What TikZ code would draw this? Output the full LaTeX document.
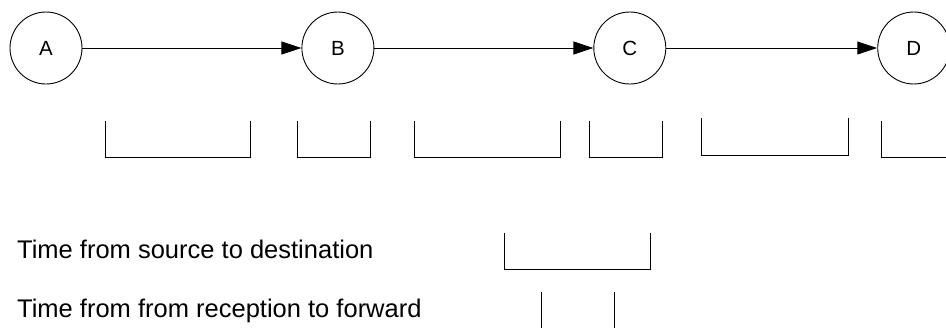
\documentclass[tikz,border=0pt]{standalone}
\usepackage{fontspec}
\setmainfont{Liberation Sans}
\usetikzlibrary{arrows.meta, positioning}

\tikzset{
  station/.style={circle, draw, line width=0.9pt, minimum size=72pt, inner sep=0pt,
    font=\fontsize{20.5}{24}\selectfont},
  hop/.style={-{Triangle[length=20pt, width=13pt]}, line width=1pt},
  span/.style={line width=1pt},
  legendtext/.style={anchor=base west, inner sep=0pt, font=\fontsize{25.5}{30}\selectfont}
}

\begin{document}
\begin{tikzpicture}[x=1pt, y=-1pt, node distance=219pt]
    \useasboundingbox (0,0) rectangle (946,327);
    \clip (0,0) rectangle (946,327);
    % stations along the path
    \node[station] (A) at (46,48) {A};
    \node[station, right=of A] (B) {B};
    \node[station, right=of B] (C) {C};
    \node[station, right=211pt of C] (D) {D};
    \draw[hop] (A) -- (B);
    \draw[hop] (B) -- (C);
    \draw[hop] (C) -- (D);
    % time spans below
    \foreach \l/\r in {105/250, 297/370, 414/560, 589/662, 881/980}
        \draw[span] (\l,121) |- (\r,157) -- (\r,121);
    \draw[span] (701,118) |- (848,155) -- (848,118);
    % legend
    \node[legendtext] (srcdst) at (17,258) {Time from source to destination};
    \node[legendtext] (recfwd) at (17,317) {Time from from reception to forward};
    \draw[span] (504,233) |- (650,269) -- (650,233);
    \draw[span] (541,292) -- (541,330);
    \draw[span] (614,292) -- (614,330);
\end{tikzpicture}
\end{document}
